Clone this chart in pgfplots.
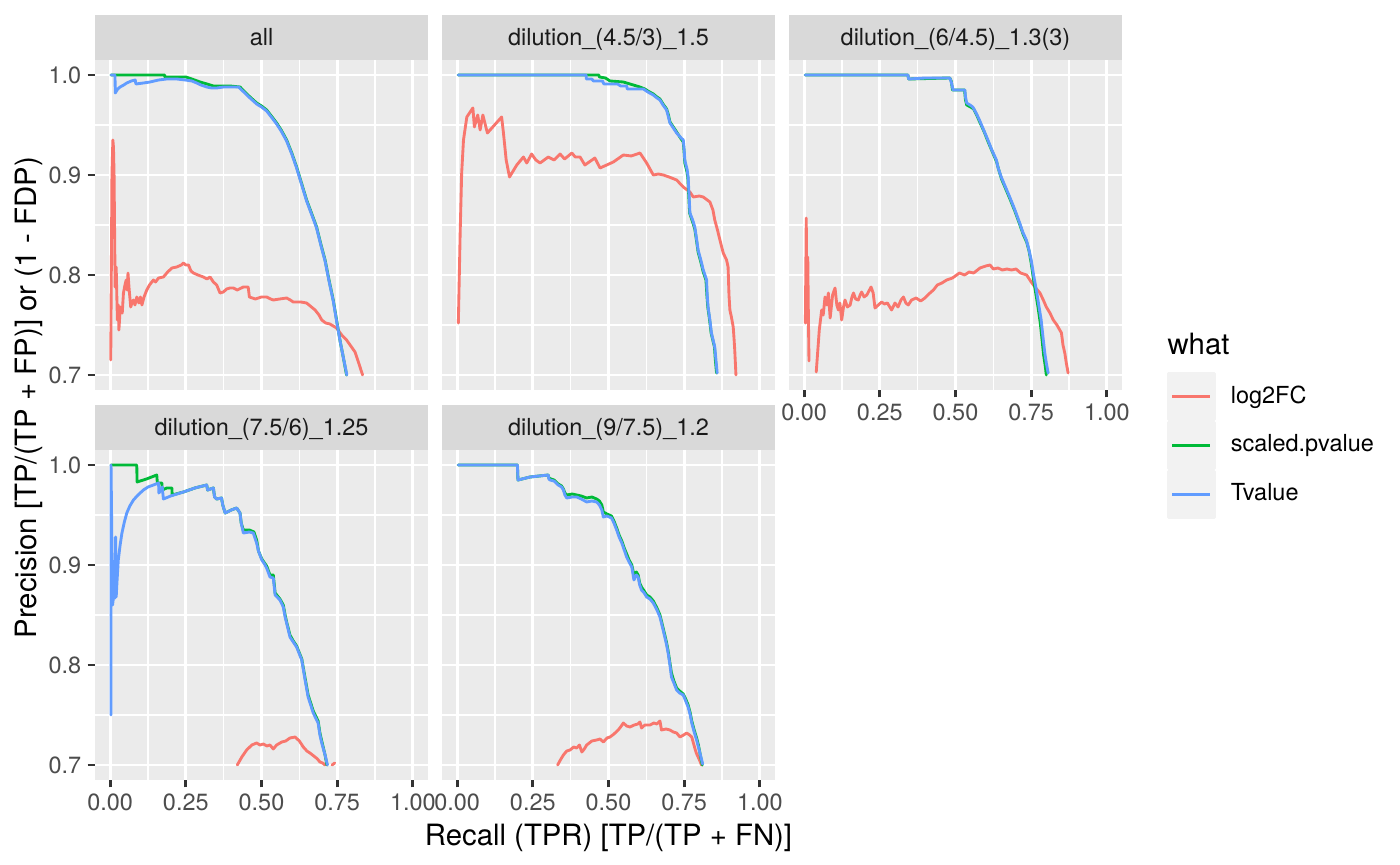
\documentclass[border=0pt]{standalone}
\usepackage{fontspec}
\setmainfont{TeX Gyre Heros}
\usepackage{pgfplots}
\pgfplotsset{compat=1.18}
\definecolor{cR}{HTML}{F8766D}
\definecolor{cG}{HTML}{00BA38}
\definecolor{cB}{HTML}{619CFF}
\definecolor{panelbg}{HTML}{EBEBEB}
\definecolor{stripbg}{HTML}{D9D9D9}
\definecolor{keybg}{HTML}{F2F2F2}
\definecolor{labc}{HTML}{4D4D4D}
\definecolor{tickc}{HTML}{333333}
\definecolor{stripc}{HTML}{1A1A1A}
\newcommand\fsmall{\fontsize{8.8}{10.5}\selectfont}
\newcommand\fbig{\fontsize{11}{13}\selectfont}
\tikzset{ser/.style={line width=1.07pt, line join=round, line cap=round}}
\pgfplotsset{
  panel/.style={
    width=124.875pt, height=123.75pt, scale only axis, anchor=north west,
    xmin=-0.05, xmax=1.05, ymin=0.685, ymax=1.015,
    axis background/.style={fill=panelbg},
    axis x line*=bottom, axis y line*=left,
    axis line style={draw=none},
    xtick={0,0.25,0.5,0.75,1}, ytick={0.7,0.8,0.9,1.0},
    minor xtick={0.125,0.375,0.625,0.875}, minor ytick={0.75,0.85,0.95},
    grid=both,
    major grid style={white, line width=1.07pt},
    minor grid style={white, line width=0.53pt},
    major tick length=2.75pt, minor tick length=0pt,
    tick align=outside,
    tick style={color=tickc, line width=1.07pt},
    ticklabel style={font=\fsmall, text=labc, inner sep=0pt},
    xticklabel style={anchor=north, yshift=-2.2pt},
    yticklabel style={anchor=east, xshift=-2.2pt},
    unbounded coords=jump,
    no markers,
  },
  xlab/.style={xticklabels={0.00,0.25,0.50,0.75,1.00}},
  nox/.style={xtick style={draw=none}, xticklabels={,,,,}},
  ylab/.style={yticklabels={0.7,0.8,0.9,1.0}},
  noy/.style={ytick style={draw=none}, yticklabels={,,,}},
}
\begin{document}
\begin{tikzpicture}
\useasboundingbox (0,0) rectangle (525pt,-324.375pt);
% strips
\fill[stripbg] (35.625pt,-5.625pt) rectangle (160.5pt,-22.5pt);
\fill[stripbg] (165.75pt,-5.625pt) rectangle (290.625pt,-22.5pt);
\fill[stripbg] (295.875pt,-5.625pt) rectangle (420.75pt,-22.5pt);
\fill[stripbg] (35.625pt,-151.875pt) rectangle (160.5pt,-168.75pt);
\fill[stripbg] (165.75pt,-151.875pt) rectangle (290.625pt,-168.75pt);
\node[anchor=base, font=\fsmall, text=stripc, inner sep=0pt] at (98.0625pt,-17.0625pt) {all};
\node[anchor=base, font=\fsmall, text=stripc, inner sep=0pt] at (228.1875pt,-17.0625pt) {dilution\_(4.5/3)\_1.5};
\node[anchor=base, font=\fsmall, text=stripc, inner sep=0pt] at (358.3125pt,-17.0625pt) {dilution\_(6/4.5)\_1.3(3)};
\node[anchor=base, font=\fsmall, text=stripc, inner sep=0pt] at (98.0625pt,-163.3125pt) {dilution\_(7.5/6)\_1.25};
\node[anchor=base, font=\fsmall, text=stripc, inner sep=0pt] at (228.1875pt,-163.3125pt) {dilution\_(9/7.5)\_1.2};

% Panel 1: all
\begin{axis}[panel, ylab, nox, at={(35.625pt,-22.5pt)}]
\addplot[cR, ser] coordinates {(0.002,0.715) (0.006,0.900) (0.009,0.935) (0.011,0.928) (0.013,0.900) (0.0165,0.788) (0.020,0.808) (0.022,0.780) (0.024,0.755) (0.027,0.770) (0.029,0.745) (0.032,0.760) (0.035,0.768) (0.040,0.762) (0.044,0.782) (0.049,0.790) (0.053,0.795) (0.056,0.785) (0.059,0.802) (0.063,0.785) (0.068,0.768) (0.072,0.772) (0.077,0.775) (0.082,0.770) (0.088,0.778) (0.095,0.772) (0.100,0.778) (0.105,0.770) (0.112,0.778) (0.121,0.785) (0.130,0.790) (0.143,0.795) (0.150,0.793) (0.160,0.797) (0.176,0.798) (0.190,0.803) (0.204,0.807) (0.220,0.808) (0.235,0.810) (0.242,0.812) (0.250,0.810) (0.259,0.810) (0.267,0.804) (0.275,0.802) (0.290,0.800) (0.308,0.798) (0.320,0.796) (0.330,0.798) (0.341,0.793) (0.352,0.790) (0.363,0.782) (0.374,0.783) (0.385,0.786) (0.396,0.787) (0.407,0.787) (0.420,0.785) (0.440,0.788) (0.456,0.788) (0.460,0.778) (0.480,0.776) (0.500,0.778) (0.517,0.778) (0.530,0.776) (0.539,0.775) (0.560,0.776) (0.583,0.777) (0.595,0.775) (0.605,0.773) (0.630,0.773) (0.649,0.772) (0.665,0.768) (0.677,0.765) (0.690,0.760) (0.699,0.755) (0.712,0.752) (0.726,0.751) (0.748,0.747) (0.765,0.740) (0.781,0.735) (0.795,0.729) (0.809,0.723) (0.820,0.713) (0.834,0.700)};
\addplot[cG, ser] coordinates {(0.003,1.000) (0.180,1.000) (0.181,0.998) (0.250,0.998) (0.270,0.996) (0.297,0.993) (0.320,0.991) (0.341,0.989) (0.396,0.989) (0.429,0.988) (0.445,0.983) (0.462,0.978) (0.484,0.972) (0.500,0.969) (0.517,0.965) (0.535,0.958) (0.550,0.952) (0.565,0.945) (0.583,0.935) (0.600,0.922) (0.616,0.908) (0.632,0.892) (0.649,0.875) (0.665,0.862) (0.682,0.848) (0.695,0.832) (0.710,0.815) (0.723,0.795) (0.737,0.775) (0.748,0.755) (0.759,0.735) (0.770,0.718) (0.781,0.700)};
\addplot[cB, ser] coordinates {(0.003,1.000) (0.016,1.000) (0.017,0.982) (0.025,0.986) (0.033,0.988) (0.045,0.990) (0.055,0.992) (0.070,0.994) (0.083,0.995) (0.085,0.991) (0.110,0.992) (0.132,0.993) (0.160,0.995) (0.187,0.996) (0.220,0.996) (0.248,0.995) (0.270,0.994) (0.286,0.992) (0.300,0.990) (0.319,0.988) (0.335,0.987) (0.352,0.987) (0.375,0.988) (0.396,0.988) (0.424,0.988) (0.445,0.982) (0.462,0.977) (0.484,0.971) (0.500,0.968) (0.517,0.964) (0.535,0.957) (0.550,0.951) (0.565,0.944) (0.583,0.934) (0.600,0.921) (0.616,0.907) (0.632,0.891) (0.649,0.874) (0.665,0.861) (0.682,0.847) (0.695,0.831) (0.710,0.814) (0.723,0.794) (0.737,0.774) (0.748,0.754) (0.759,0.735) (0.770,0.718) (0.782,0.700)};
\end{axis}

% Panel 2
\begin{axis}[panel, nox, noy, at={(165.75pt,-22.5pt)}]
\addplot[cR, ser] coordinates {(0.004,0.752) (0.010,0.842) (0.015,0.902) (0.021,0.935) (0.032,0.958) (0.052,0.967) (0.057,0.948) (0.068,0.960) (0.076,0.945) (0.085,0.960) (0.100,0.942) (0.147,0.958) (0.153,0.942) (0.162,0.915) (0.173,0.898) (0.197,0.910) (0.219,0.918) (0.230,0.912) (0.246,0.921) (0.260,0.915) (0.274,0.912) (0.301,0.918) (0.320,0.915) (0.340,0.921) (0.355,0.916) (0.379,0.922) (0.390,0.918) (0.406,0.918) (0.422,0.910) (0.455,0.917) (0.472,0.907) (0.516,0.913) (0.549,0.920) (0.575,0.919) (0.604,0.922) (0.626,0.912) (0.648,0.900) (0.665,0.901) (0.681,0.900) (0.700,0.898) (0.725,0.895) (0.747,0.888) (0.769,0.883) (0.780,0.878) (0.800,0.879) (0.813,0.878) (0.835,0.873) (0.845,0.865) (0.851,0.855) (0.860,0.845) (0.868,0.835) (0.879,0.822) (0.890,0.815) (0.895,0.808) (0.898,0.780) (0.901,0.765) (0.906,0.758) (0.912,0.748) (0.915,0.735) (0.917,0.725) (0.921,0.700)};
\addplot[cG, ser] coordinates {(0.004,1.000) (0.468,1.000) (0.470,0.998) (0.490,0.997) (0.505,0.994) (0.549,0.993) (0.582,0.990) (0.604,0.988) (0.620,0.986) (0.630,0.984) (0.648,0.981) (0.660,0.978) (0.670,0.976) (0.680,0.971) (0.692,0.966) (0.698,0.960) (0.703,0.953) (0.712,0.949) (0.725,0.943) (0.740,0.936) (0.747,0.933) (0.750,0.922) (0.752,0.912) (0.758,0.905) (0.762,0.898) (0.765,0.880) (0.768,0.862) (0.778,0.853) (0.785,0.846) (0.790,0.836) (0.796,0.823) (0.805,0.813) (0.813,0.803) (0.822,0.795) (0.825,0.780) (0.828,0.768) (0.834,0.755) (0.839,0.742) (0.850,0.728) (0.853,0.715) (0.857,0.702)};
\addplot[cB, ser] coordinates {(0.004,1.000) (0.426,1.000) (0.427,0.996) (0.445,0.996) (0.450,0.994) (0.480,0.994) (0.485,0.991) (0.530,0.991) (0.540,0.989) (0.560,0.989) (0.562,0.986) (0.590,0.986) (0.615,0.986) (0.630,0.983) (0.648,0.980) (0.660,0.977) (0.670,0.975) (0.680,0.970) (0.692,0.965) (0.698,0.958) (0.703,0.952) (0.712,0.948) (0.725,0.942) (0.740,0.937) (0.747,0.935) (0.750,0.925) (0.752,0.915) (0.760,0.905) (0.763,0.898) (0.766,0.880) (0.769,0.862) (0.778,0.855) (0.785,0.848) (0.790,0.838) (0.796,0.825) (0.805,0.815) (0.813,0.805) (0.824,0.795) (0.826,0.780) (0.829,0.768) (0.835,0.755) (0.840,0.742) (0.851,0.728) (0.855,0.715) (0.859,0.702)};
\end{axis}

% Panel 3
\begin{axis}[panel, xlab, noy, at={(295.875pt,-22.5pt)},
  legend style={at={(axis description cs:1.1351,0.0545)}, anchor=north west, draw=none, fill=none,
    inner sep=0pt, outer sep=0pt, row sep=0pt, column sep=5.625pt, font=\fsmall, text=black,
    nodes={inner sep=0pt, outer sep=0pt}, cells={anchor=west}},
  legend image code/.code={\fill[keybg] (0pt,-8.625pt) rectangle (17.25pt,8.625pt);
    \draw[#1, line width=1.07pt, line cap=butt] (1.5pt,0pt) -- (15.75pt,0pt);}]
\addplot[cR, ser] coordinates {(0.004,0.752) (0.007,0.857) (0.009,0.760) (0.011,0.752) (0.012,0.818) (0.014,0.760) (0.016,0.714) (0.028,nan) (0.040,0.703) (0.050,0.745) (0.058,0.765) (0.063,0.760) (0.069,0.778) (0.075,0.770) (0.080,0.782) (0.086,0.757) (0.094,0.780) (0.102,0.787) (0.108,0.770) (0.113,0.765) (0.118,0.772) (0.124,0.755) (0.130,0.768) (0.135,0.775) (0.143,0.768) (0.152,0.770) (0.158,0.778) (0.163,0.782) (0.170,0.776) (0.179,0.775) (0.185,0.780) (0.190,0.783) (0.198,0.778) (0.207,0.780) (0.214,0.784) (0.221,0.788) (0.228,0.782) (0.234,0.767) (0.245,0.770) (0.256,0.773) (0.265,0.771) (0.275,0.772) (0.289,0.765) (0.300,0.772) (0.310,0.768) (0.320,0.775) (0.328,0.778) (0.336,0.772) (0.344,0.770) (0.355,0.775) (0.370,0.777) (0.385,0.774) (0.399,0.777) (0.412,0.781) (0.427,0.785) (0.440,0.790) (0.455,0.792) (0.471,0.795) (0.490,0.797) (0.513,0.802) (0.530,0.800) (0.545,0.803) (0.560,0.802) (0.581,0.807) (0.600,0.809) (0.614,0.810) (0.625,0.806) (0.640,0.807) (0.655,0.805) (0.670,0.806) (0.685,0.805) (0.700,0.806) (0.715,0.802) (0.735,0.800) (0.750,0.793) (0.765,0.787) (0.779,0.782) (0.790,0.775) (0.800,0.768) (0.812,0.762) (0.823,0.755) (0.835,0.750) (0.850,0.742) (0.855,0.730) (0.861,0.722) (0.866,0.712) (0.872,0.702)};
\addlegendentry{log2FC}
\addplot[cG, ser] coordinates {(0.004,1.000) (0.343,1.000) (0.345,0.996) (0.481,0.997) (0.486,0.994) (0.490,0.985) (0.530,0.985) (0.533,0.975) (0.537,0.970) (0.550,0.968) (0.560,0.966) (0.570,0.960) (0.580,0.953) (0.595,0.943) (0.608,0.933) (0.622,0.923) (0.636,0.913) (0.642,0.906) (0.652,0.896) (0.666,0.886) (0.680,0.876) (0.696,0.864) (0.713,0.850) (0.723,0.841) (0.735,0.833) (0.743,0.824) (0.750,0.812) (0.757,0.797) (0.765,0.782) (0.773,0.767) (0.780,0.752) (0.786,0.735) (0.791,0.720) (0.796,0.710) (0.800,0.700)};
\addlegendentry{scaled.pvalue}
\addplot[cB, ser] coordinates {(0.004,1.000) (0.343,1.000) (0.345,0.996) (0.400,0.997) (0.481,0.997) (0.486,0.993) (0.492,0.985) (0.531,0.985) (0.533,0.978) (0.537,0.972) (0.548,0.970) (0.557,0.968) (0.568,0.962) (0.579,0.955) (0.593,0.945) (0.607,0.935) (0.620,0.925) (0.635,0.915) (0.640,0.908) (0.651,0.898) (0.665,0.888) (0.679,0.878) (0.695,0.866) (0.712,0.852) (0.722,0.843) (0.734,0.835) (0.742,0.826) (0.750,0.815) (0.758,0.800) (0.767,0.785) (0.775,0.770) (0.783,0.755) (0.789,0.738) (0.795,0.722) (0.800,0.712) (0.806,0.702)};
\addlegendentry{Tvalue}
\end{axis}

% Panel 4
\begin{axis}[panel, xlab, ylab, at={(35.625pt,-168.75pt)}]
\addplot[cR, ser] coordinates {(0.420,0.700) (0.435,0.708) (0.451,0.715) (0.468,0.720) (0.484,0.722) (0.495,0.720) (0.506,0.721) (0.518,0.719) (0.528,0.720) (0.539,0.716) (0.550,0.720) (0.567,0.723) (0.580,0.724) (0.594,0.727) (0.611,0.728) (0.625,0.724) (0.638,0.718) (0.650,0.714) (0.660,0.712) (0.677,0.708) (0.685,0.706) (0.693,0.703) (0.702,0.702) (0.710,0.700) (0.720,nan) (0.733,0.700) (0.742,0.702)};
\addplot[cG, ser] coordinates {(0.003,1.000) (0.088,1.000) (0.089,0.983) (0.120,0.986) (0.154,0.990) (0.156,0.982) (0.171,0.982) (0.172,0.975) (0.187,0.977) (0.204,0.977) (0.205,0.970) (0.242,0.973) (0.280,0.977) (0.319,0.980) (0.322,0.975) (0.341,0.977) (0.345,0.968) (0.352,0.966) (0.368,0.967) (0.372,0.960) (0.380,0.952) (0.400,0.955) (0.418,0.957) (0.429,0.952) (0.433,0.942) (0.440,0.935) (0.460,0.935) (0.475,0.933) (0.484,0.925) (0.490,0.914) (0.501,0.906) (0.510,0.902) (0.517,0.899) (0.528,0.890) (0.539,0.890) (0.545,0.872) (0.561,0.866) (0.572,0.860) (0.578,0.850) (0.583,0.843) (0.594,0.830) (0.605,0.824) (0.616,0.819) (0.633,0.806) (0.644,0.787) (0.654,0.770) (0.671,0.754) (0.687,0.744) (0.693,0.732) (0.699,0.724) (0.710,0.710) (0.716,0.700)};
\addplot[cB, ser] coordinates {(0.003,0.750) (0.003,1.000) (0.008,0.860) (0.012,0.870) (0.016,0.867) (0.018,0.928) (0.020,0.868) (0.023,0.885) (0.027,0.905) (0.033,0.920) (0.039,0.932) (0.047,0.943) (0.055,0.952) (0.065,0.959) (0.077,0.965) (0.092,0.970) (0.110,0.975) (0.125,0.978) (0.143,0.980) (0.160,0.982) (0.161,0.972) (0.170,0.976) (0.172,0.978) (0.176,0.966) (0.200,0.969) (0.242,0.973) (0.280,0.977) (0.319,0.980) (0.322,0.975) (0.341,0.977) (0.345,0.968) (0.352,0.966) (0.368,0.967) (0.372,0.960) (0.380,0.952) (0.400,0.955) (0.418,0.957) (0.429,0.952) (0.433,0.942) (0.440,0.932) (0.460,0.933) (0.473,0.932) (0.484,0.922) (0.490,0.914) (0.501,0.905) (0.510,0.901) (0.517,0.897) (0.528,0.888) (0.539,0.887) (0.545,0.870) (0.561,0.865) (0.572,0.858) (0.578,0.848) (0.583,0.842) (0.594,0.828) (0.605,0.823) (0.616,0.818) (0.633,0.805) (0.644,0.785) (0.654,0.768) (0.671,0.752) (0.687,0.742) (0.693,0.730) (0.699,0.722) (0.710,0.710) (0.718,0.700)};
\end{axis}

% Panel 5
\begin{axis}[panel, xlab, noy, at={(165.75pt,-168.75pt)}]
\addplot[cR, ser] coordinates {(0.332,0.700) (0.341,0.705) (0.351,0.710) (0.362,0.714) (0.373,0.715) (0.385,0.718) (0.395,0.717) (0.404,0.720) (0.412,0.713) (0.420,0.716) (0.428,0.720) (0.445,0.724) (0.461,0.725) (0.472,0.726) (0.483,0.723) (0.495,0.727) (0.505,0.728) (0.518,0.731) (0.532,0.735) (0.540,0.738) (0.549,0.742) (0.560,0.739) (0.571,0.738) (0.585,0.740) (0.597,0.741) (0.604,0.743) (0.609,0.737) (0.620,0.740) (0.637,0.740) (0.650,0.742) (0.660,0.741) (0.670,0.744) (0.675,0.735) (0.690,0.736) (0.703,0.735) (0.714,0.733) (0.725,0.732) (0.736,0.728) (0.748,0.730) (0.758,0.732) (0.768,0.730) (0.775,0.728) (0.785,0.717) (0.790,0.712) (0.796,0.708) (0.802,0.704) (0.807,0.700)};
\addplot[cG, ser] coordinates {(0.004,1.000) (0.199,1.000) (0.201,0.985) (0.241,0.988) (0.301,0.990) (0.303,0.987) (0.310,0.986) (0.320,0.985) (0.334,0.981) (0.345,0.979) (0.351,0.976) (0.356,0.972) (0.362,0.970) (0.380,0.971) (0.395,0.970) (0.410,0.969) (0.428,0.967) (0.445,0.968) (0.461,0.966) (0.470,0.964) (0.478,0.960) (0.483,0.953) (0.495,0.951) (0.510,0.949) (0.518,0.944) (0.527,0.937) (0.535,0.930) (0.544,0.924) (0.552,0.917) (0.560,0.911) (0.568,0.905) (0.577,0.900) (0.584,0.890) (0.592,0.893) (0.598,0.890) (0.603,0.882) (0.609,0.878) (0.618,0.874) (0.626,0.870) (0.637,0.868) (0.648,0.864) (0.660,0.857) (0.670,0.850) (0.678,0.840) (0.686,0.830) (0.692,0.822) (0.697,0.814) (0.703,0.802) (0.708,0.792) (0.716,0.784) (0.725,0.777) (0.735,0.774) (0.747,0.771) (0.755,0.766) (0.763,0.760) (0.770,0.752) (0.775,0.744) (0.783,0.735) (0.791,0.727) (0.797,0.720) (0.802,0.712) (0.807,0.704) (0.810,0.700)};
\addplot[cB, ser] coordinates {(0.004,1.000) (0.199,1.000) (0.201,0.985) (0.241,0.988) (0.301,0.990) (0.303,0.986) (0.307,0.985) (0.320,0.984) (0.334,0.980) (0.345,0.978) (0.351,0.975) (0.356,0.970) (0.362,0.967) (0.380,0.968) (0.395,0.968) (0.410,0.966) (0.428,0.963) (0.445,0.964) (0.461,0.963) (0.470,0.960) (0.478,0.955) (0.483,0.948) (0.495,0.949) (0.510,0.947) (0.518,0.942) (0.527,0.935) (0.535,0.928) (0.544,0.922) (0.552,0.915) (0.560,0.908) (0.568,0.903) (0.577,0.898) (0.584,0.885) (0.592,0.890) (0.598,0.888) (0.603,0.880) (0.609,0.875) (0.618,0.872) (0.626,0.868) (0.637,0.866) (0.648,0.862) (0.660,0.855) (0.670,0.848) (0.678,0.838) (0.686,0.828) (0.692,0.820) (0.697,0.812) (0.703,0.800) (0.708,0.788) (0.716,0.782) (0.725,0.775) (0.735,0.772) (0.747,0.770) (0.755,0.764) (0.763,0.758) (0.770,0.750) (0.775,0.742) (0.783,0.733) (0.791,0.725) (0.797,0.718) (0.802,0.712) (0.807,0.706) (0.811,0.701)};
\end{axis}

% titles
\node[rotate=90, anchor=base, font=\fbig, inner sep=0pt] at (13.5pt,-149.0625pt) {Precision [TP/(TP + FP)] or (1 - FDP)};
\node[anchor=base, font=\fbig, inner sep=0pt] at (228.1875pt,-316.875pt) {Recall (TPR) [TP/(TP + FN)]};
\node[anchor=base west, font=\fbig, inner sep=0pt] at (437.625pt,-133.125pt) {what};
\end{tikzpicture}
\end{document}
